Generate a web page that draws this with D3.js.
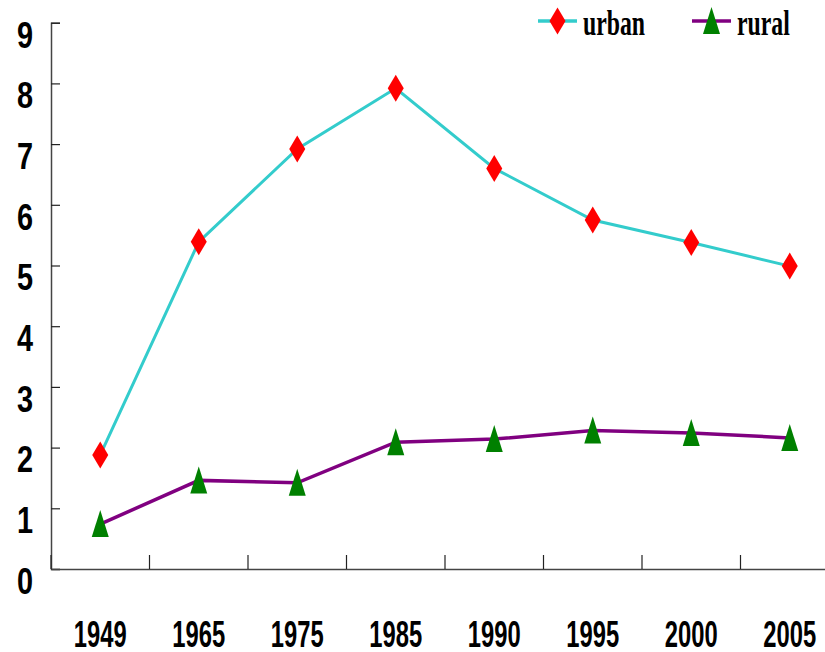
<!DOCTYPE html>
<html>
<head>
<meta charset="utf-8">
<script src="https://cdn.jsdelivr.net/npm/d3@7"></script>
<style>
  body { margin: 0; background: #fff; }
  svg { display: block; }
  .num { font-family: "Liberation Sans", Arial, sans-serif; font-weight: bold; }
  .leg { font-family: "Liberation Serif", "Times New Roman", serif; font-weight: bold; }
</style>
</head>
<body>
<div id="chart"></div>
<script>
const years = ["1949", "1965", "1975", "1985", "1990", "1995", "2000", "2005"];
const urban = [1.88, 5.39, 6.92, 7.92, 6.60, 5.75, 5.38, 4.99];
const rural = [0.74, 1.46, 1.42, 2.09, 2.14, 2.28, 2.24, 2.16];
const yTicks = [0, 1, 2, 3, 4, 5, 6, 7, 8, 9];

const W = 825, H = 652;
const margin = {left: 51, top: 22.7, bottom: 569, right: 839};

const svg = d3.select("#chart")
  .append("svg")
  .attr("width", W)
  .attr("height", H);

const x = d3.scaleBand()
  .domain(years)
  .range([margin.left, margin.right]);

const y = d3.scaleLinear()
  .domain([0, 9])
  .range([margin.bottom, margin.top]);

// y axis, ticks pointing inward
const yAxis = svg.append("g")
  .attr("transform", `translate(${margin.left},0)`)
  .call(d3.axisLeft(y).tickValues(yTicks).tickSize(-9).tickFormat(d3.format("d")));
yAxis.select(".domain").attr("stroke", "#444").attr("stroke-width", 1.5);
yAxis.selectAll(".tick line").attr("stroke", "#222").attr("stroke-width", 1.2);
yAxis.selectAll(".tick text")
  .attr("class", "num")
  .attr("x", 0)
  .attr("dy", "0.36em")
  .attr("text-anchor", "middle")
  .attr("font-size", 37)
  .attr("fill", "#000")
  .attr("transform", "translate(-26,11) scale(0.78,1)");

// x axis: labels centred, ticks on band edges
const xAxis = svg.append("g")
  .attr("transform", `translate(0,${margin.bottom})`)
  .call(d3.axisBottom(x).tickSize(0).tickPadding(0));
xAxis.select(".domain").attr("stroke", "#444").attr("stroke-width", 1.5);
xAxis.selectAll(".tick").each(function(d) {
  const cx = x(d) + x.bandwidth() / 2;
  d3.select(this).attr("transform", null);
  d3.select(this).select("text")
    .attr("class", "num")
    .attr("x", 0)
    .attr("y", 78)
    .attr("dy", 0)
    .attr("font-size", 36)
    .attr("fill", "#000")
    .attr("transform", `translate(${cx},0) scale(0.66,1)`);
});

const edges = years.map(d => x(d)).concat([x.range()[1]]);
xAxis.selectAll(".edge")
  .data(edges)
  .join("line")
  .attr("class", "edge")
  .attr("x1", d => d).attr("x2", d => d)
  .attr("y1", 0).attr("y2", -14)
  .attr("stroke", "#222")
  .attr("stroke-width", 1.2);

const cx = (d, i) => x(years[i]) + x.bandwidth() / 2;

const line = d3.line()
  .x((d, i) => cx(d, i))
  .y(d => y(d));

svg.append("path")
  .datum(urban)
  .attr("fill", "none")
  .attr("stroke", "#33CCCC")
  .attr("stroke-width", 3)
  .attr("d", line);

svg.append("path")
  .datum(rural)
  .attr("fill", "none")
  .attr("stroke", "#800080")
  .attr("stroke-width", 3.5)
  .attr("d", line);

const diamond = "M0,-13.5L8,0L0,13.5L-8,0Z";
const triangle = "M0,-14L8.5,13L-8.5,13Z";

svg.selectAll(".urbanPt")
  .data(urban)
  .join("path")
  .attr("class", "urbanPt")
  .attr("d", diamond)
  .attr("fill", "#FF0000")
  .attr("transform", (d, i) => `translate(${cx(d, i)},${y(d)})`);

svg.selectAll(".ruralPt")
  .data(rural)
  .join("path")
  .attr("class", "ruralPt")
  .attr("d", triangle)
  .attr("fill", "#008000")
  .attr("transform", (d, i) => `translate(${cx(d, i)},${y(d)})`);

// legend
const legend = [
  {name: "urban", stroke: "#33CCCC", fill: "#FF0000", shape: diamond, x: 538},
  {name: "rural", stroke: "#800080", fill: "#008000", shape: triangle, x: 692}
];
const lg = svg.selectAll(".legend")
  .data(legend)
  .join("g")
  .attr("class", "legend")
  .attr("transform", d => `translate(${d.x},21)`);
lg.append("line")
  .attr("x1", 0).attr("x2", 39)
  .attr("stroke", d => d.stroke)
  .attr("stroke-width", 3.5);
lg.append("path")
  .attr("d", d => d.shape)
  .attr("fill", d => d.fill)
  .attr("transform", "translate(19.5,0)");
lg.append("text")
  .attr("class", "leg")
  .attr("x", 45)
  .attr("y", 14)
  .attr("font-size", 36)
  .attr("fill", "#000")
  .attr("transform", "translate(45,0) scale(0.66,1) translate(-45,0)")
  .text(d => d.name);
</script>
</body>
</html>
